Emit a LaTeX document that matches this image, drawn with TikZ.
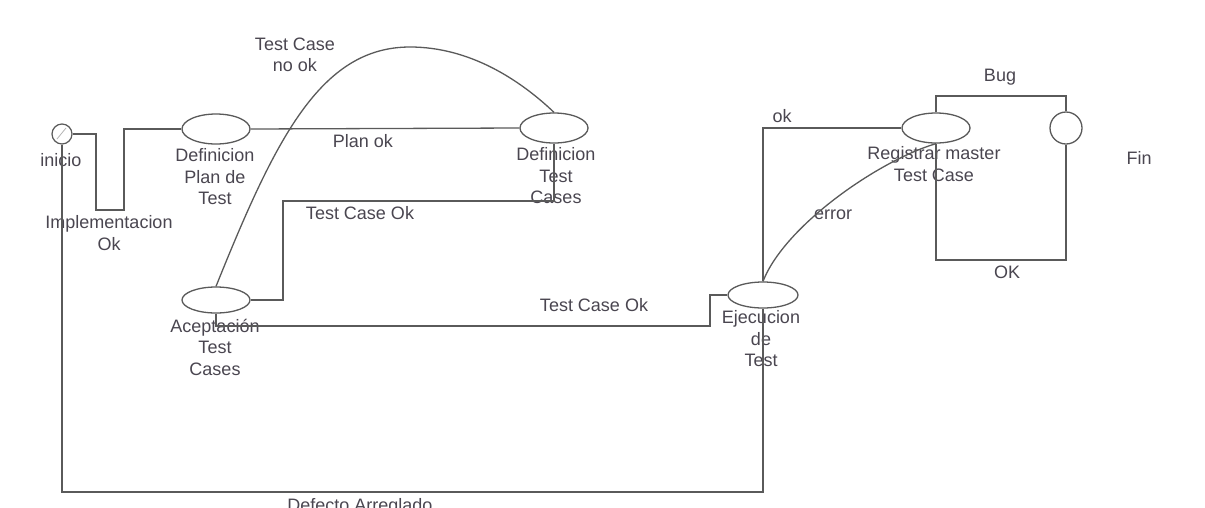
\documentclass[tikz,border=0pt]{standalone}
\usepackage{fontspec}
\setmainfont{Liberation Sans}
\usetikzlibrary{shapes.geometric}
\definecolor{ln}{HTML}{5A5A5A}
\definecolor{tx}{HTML}{4A4650}
\begin{document}
\begin{tikzpicture}[x=1pt,y=-1pt,
  state/.style={draw=ln,line width=1.3pt,ellipse,minimum width=68pt,minimum height=30pt,inner sep=0pt},
  lbl/.style={text=tx,font=\fontsize{18}{21.5}\selectfont,align=center,inner sep=0pt},
  conn/.style={draw=ln,line width=1.3pt}]
\useasboundingbox[fill=white] (0,0) rectangle (1205,507);
% states
\node[draw=ln,line width=1.2pt,circle,minimum size=20pt,inner sep=0pt] (ini) at (62,134) {};
\node[state] (plan) at (216,129) {};
\node[state] (deftc) at (554,128) {};
\node[state,minimum height=26pt] (acep) at (216,300) {};
\node[state,minimum height=26pt,minimum width=70pt] (ejec) at (763,295) {};
\node[state] (regis) at (936,128) {};
\node[draw=ln,line width=1.3pt,circle,minimum size=32pt,inner sep=0pt] (fin) at (1066,128) {};
\draw[ln!45,line width=0.8pt] (57,139) -- (66,128);
% labels
\node[lbl] (linicio) at (61,160) {inicio};
\node[lbl] (limpl) at (109,233) {Implementacion\\Ok};
\node[lbl] (lplan) at (215,177) {Definicion\\Plan de\\Test};
\node[lbl] (ldeftc) at (556,176) {Definicion\\Test\\Cases};
\node[lbl] (lacep) at (215,347) {Aceptación\\Test\\Cases};
\node[lbl] (lejec) at (761,339) {Ejecucion\\de\\Test};
\node[lbl] (lregis) at (934,164) {Registrar master\\Test Case};
\node[lbl] (ltcnok) at (295,55) {Test Case\\no ok};
\node[lbl] (lplanok) at (363,141) {Plan ok};
\node[lbl] (ltcok1) at (360,213) {Test Case Ok};
\node[lbl] (ltcok2) at (594,305) {Test Case Ok};
\node[lbl] (lok) at (782,116) {ok};
\node[lbl] (lerror) at (833,215) {error};
\node[lbl] (lbug) at (1000,77) {Bug};
\node[lbl] (lOK) at (1007,272) {OK};
\node[lbl] (lfin) at (1139,158) {Fin};
\node[lbl,anchor=base] (ldef) at (360,511) {Defecto Arreglado};
% connectors
\draw[conn] (ini.east) -- (96,134) -- (96,210) -- (124,210) |- (plan.west);
\draw[conn] (ini.south) -- (62,492) -| (ejec.south);
\draw[conn] (plan.east) -- (deftc.west);
\draw[conn] (acep.east) -| (283,201) -| (deftc.south);
\draw[conn] (acep.south) |- (710,326) |- (ejec.west);
\draw[conn] (ejec.north) |- (regis.west);
\draw[conn] (ejec.north) .. controls (785,225) and (880,160) .. (regis.south);
\draw[conn] (acep.north) .. controls (275,140) and (320,47) .. (410,47)
  .. controls (470,47) and (520,80) .. (deftc.north);
\draw[conn] (regis.north) -- (936,96) -| (fin.north);
\draw[conn] (fin.south) |- (936,260) -- (regis.south);
\end{tikzpicture}
\end{document}
